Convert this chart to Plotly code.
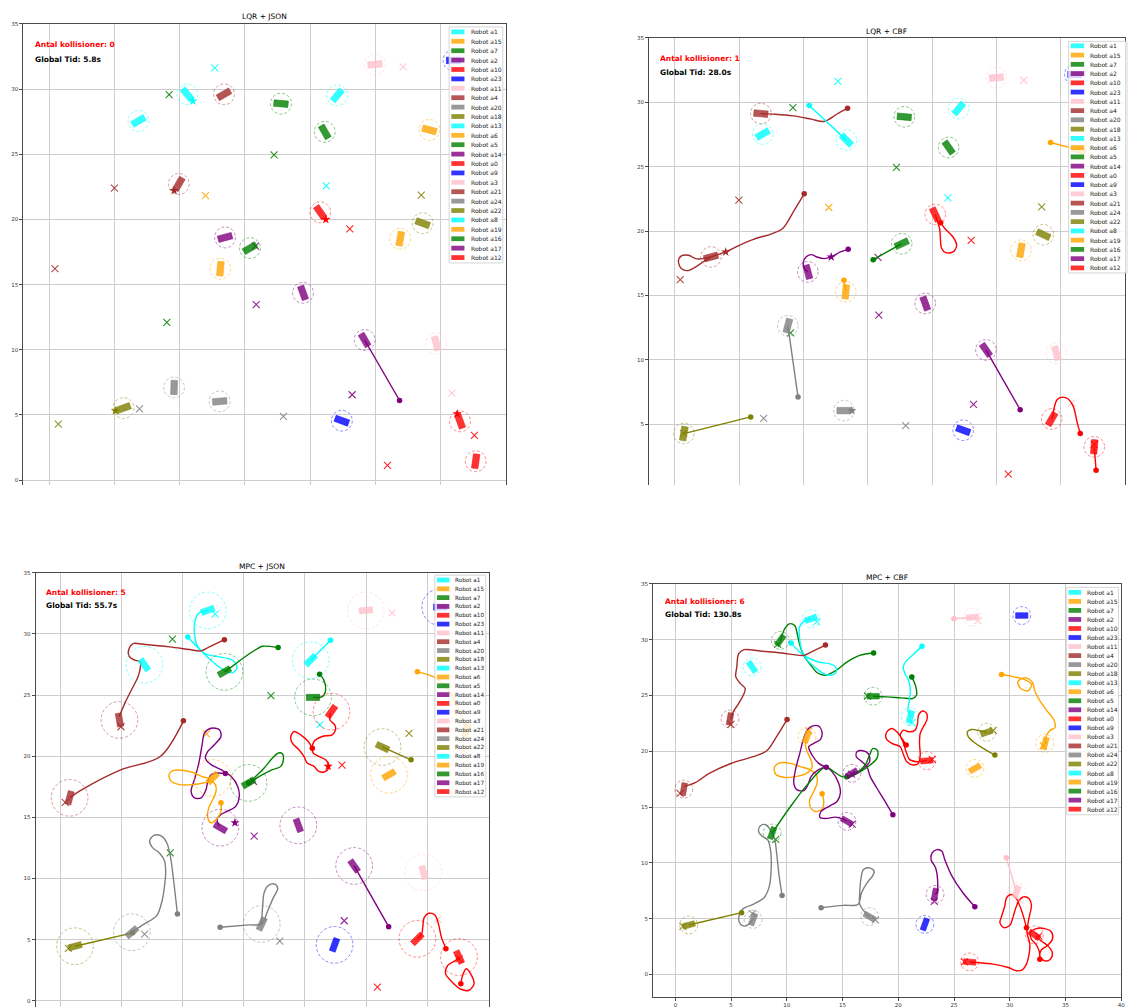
import math
import plotly.graph_objects as go

W, H = 1129, 1008

NAMES = ["a1", "a15", "a7", "a2", "a10", "a23", "a11", "a4", "a20", "a18",
         "a13", "a6", "a5", "a14", "a0", "a9", "a3", "a21", "a24", "a22",
         "a8", "a19", "a16", "a17", "a12"]
PALETTE = ["cyan", "orange", "green", "purple", "red", "blue", "pink", "brown", "gray", "olive"]
RGB = {"cyan": (0, 255, 255), "orange": (255, 165, 0), "green": (0, 128, 0),
       "purple": (128, 0, 128), "red": (255, 0, 0), "blue": (0, 0, 255),
       "pink": (255, 192, 203), "brown": (165, 42, 42), "gray": (128, 128, 128),
       "olive": (128, 128, 0)}

TITLES = ["LQR + JSON", "LQR + CBF", "MPC + JSON", "MPC + CBF"]
COLLISIONS = [0, 1, 5, 6]
TIMES = ["5.8s", "28.0s", "55.7s", "130.8s"]
Y_TICKS = [0, 5, 10, 15, 20, 25, 30, 35]
X_TICKS = [0, 5, 10, 15, 20, 25, 30, 35, 40]

# goal positions, legend order (None = hidden)
GOAL_X = [None, 33.0, 9.18, 15.86, 23.04, None, 27.13, 4.98, 6.91, 0.68,
          12.68, None, 17.23, 15.8, 25.93, None, 30.87, 0.42, 17.95, 28.52,
          21.23, 11.97, 9.0, 23.22, 32.6]
GOAL_Y = [None, 20.5, 29.58, 13.47, 19.28, None, 31.71, 22.41, 5.46, 4.3,
          31.62, None, 24.95, 17.95, 1.13, None, 6.67, 16.23, 4.89, 21.87,
          22.58, 21.83, 12.1, 6.55, 3.44]

# robot poses per panel (legend order)
P1_X = [6.83, 29.15, 17.76, 13.47, 20.77, 31.0, 24.97, 13.39, 9.56, 5.68,
        10.57, 26.91, 21.12, 19.45, 31.5, 22.43, 29.67, 9.92, 13.06, 28.63,
        22.08, 13.11, 15.38, 24.18, 32.7]
P1_Y = [27.56, 26.87, 28.88, 18.62, 20.55, 32.2, 31.89, 29.6, 7.11, 5.53,
        29.6, 18.52, 26.72, 14.37, 4.51, 4.56, 10.49, 22.72, 6.04, 19.71,
        29.52, 16.22, 17.8, 10.75, 1.45]
P1_A = [30, -15, -5, 15, -55, 0, 5, 30, 88, 20,
        -50, 80, -60, -70, -70, -20, -75, 60, 5, -20,
        50, 85, 30, -60, 82]

P2_X = [6.83, 31.4, 17.84, 10.34, 20.25, 31.1, 25.0, 6.69, 8.79, 0.7,
        13.34, 26.91, 21.29, 19.47, 29.3, 22.42, 29.66, 2.81, 13.15, 28.65,
        22.08, 13.29, 17.64, 24.19, 32.61]
P2_Y = [27.53, 26.3, 28.87, 16.83, 21.29, 32.16, 31.91, 29.12, 12.65, 4.28,
        27.06, 18.51, 26.49, 14.38, 5.41, 4.54, 10.52, 17.99, 6.06, 19.72,
        29.51, 15.28, 19.02, 10.77, 3.25]
P2_A = [30, -15, -5, -75, -65, 0, 5, -5, 75, 80,
        -45, 80, -55, -70, 60, -20, -75, 15, 0, -25,
        50, 85, 25, -55, 85]

P3_X = [6.89, 33.2, 13.43, 13.1, 22.18, 31.07, 24.99, 4.85, 5.87, 1.22,
        12.07, 26.88, 20.67, 19.47, 29.2, 22.43, 29.7, 0.78, 16.48, 26.35,
        20.48, 12.48, 15.4, 24.03, 32.6]
P3_Y = [27.48, 22.1, 26.9, 14.16, 23.65, 32.19, 31.92, 22.97, 5.61, 4.47,
        31.92, 18.49, 24.81, 14.35, 5.07, 4.58, 10.49, 16.6, 6.29, 20.75,
        27.85, 18.22, 17.82, 11.03, 3.58]
P3_A = [-55, 75, 30, -30, 55, 0, 5, -80, 40, 15,
        20, 30, 0, -70, 45, 70, -75, 75, 65, -25,
        45, 45, 30, -55, -65]

P4_X = [6.88, 33.15, 9.41, 15.39, 22.55, 31.07, 26.66, 4.9, 6.97, 1.2,
        12.16, 26.87, 17.74, 15.84, 26.4, 22.38, 30.6, 0.75, 17.42, 27.92,
        21.08, 11.8, 8.68, 23.29, 32.2]
P4_Y = [27.56, 20.71, 29.94, 13.72, 19.16, 32.17, 32.02, 22.9, 4.94, 4.43,
        31.88, 18.47, 24.94, 18.03, 1.12, 4.49, 7.4, 16.61, 5.18, 21.7,
        23.1, 21.3, 12.67, 7.17, 3.55]
P4_A = [-55, 75, 55, -30, 5, 0, 5, 80, 70, 15,
        20, 30, 0, 30, -5, 70, 70, 80, -30, 20,
        75, 70, 70, 80, -35]

# trajectories (first point = start)
P1_PATHS = {
    "a17": ([26.86, 24.18], [6.11, 10.75]),
}

P2_PATHS = {
    "a4": ([13.43, 12.58, 11.6, 10.62, 9.21, 7.81, 6.69],
           [29.54, 29.07, 28.51, 28.69, 28.94, 29.07, 29.12]),
    "a13": ([10.45, 13.34], [29.74, 27.06]),
    "a15": ([29.21, 31.4], [26.88, 26.3]),
    "a21": ([10.06, 9.35, 8.37, 7.53, 6.12, 4.72, 3.96, 3.03, 2.19, 1.63, 1.07, 0.51, 0.28, 0.51, 1.01, 1.63, 2.19, 2.75],
            [22.89, 21.73, 20.18, 19.79, 19.36, 18.76, 18.38, 18.07, 17.86, 17.86, 18.12, 18.07, 17.65, 17.09, 16.93, 17.22, 17.6, 17.91]),
    "a2": ([13.48, 12.87, 12.16, 11.6, 11.04, 10.62, 10.2, 10.0, 10.06, 10.34],
           [18.58, 18.38, 17.99, 17.86, 17.99, 18.17, 17.99, 17.6, 17.09, 16.83]),
    "a19": ([13.15, 13.29], [16.19, 15.28]),
    "a16": ([15.42, 17.64], [17.78, 19.02]),
    "a10": ([20.67, 21.01, 21.63, 21.91, 21.63, 21.07, 20.73, 20.65, 20.59, 20.39, 20.25],
            [20.64, 20.18, 19.54, 18.89, 18.38, 18.32, 18.69, 19.41, 20.18, 20.82, 21.29]),
    "a20": ([9.58, 8.79], [7.11, 12.65]),
    "a18": ([5.9, 0.7], [5.57, 4.28]),
    "a17": ([26.85, 24.19], [6.13, 10.77]),
    "a0": ([31.52, 31.26, 30.98, 30.56, 30.14, 29.72, 29.49, 29.38, 29.3],
           [4.28, 5.23, 6.39, 6.98, 7.11, 6.91, 6.26, 5.62, 5.41]),
    "a12": ([32.75, 32.61], [1.44, 3.25]),
}

P3_PATHS = {
    "a13": ([10.44, 11.53, 12.48, 13.29, 14.10, 14.46, 14.10, 13.02, 11.93, 11.26, 10.98, 11.07, 11.34, 12.07],
            [29.75, 28.61, 27.72, 27.09, 26.82, 27.25, 27.85, 28.12, 28.34, 28.94, 30.02, 31.24, 31.70, 31.92]),
    "a4": ([13.43, 12.20, 11.53, 10.58, 8.95, 6.78, 5.97, 5.64, 5.64, 6.10, 6.56, 6.56, 6.37, 5.83, 5.29, 4.83],
           [29.53, 28.94, 28.61, 28.72, 28.94, 29.15, 29.21, 28.80, 28.18, 27.85, 27.71, 27.25, 26.49, 25.41, 24.32, 23.24]),
    "a7": ([17.82, 16.54, 16.14, 14.92, 14.1, 13.43], [28.88, 28.99, 28.8, 27.99, 27.36, 26.9]),
    "a8": ([22.10, 20.48], [29.48, 27.85]),
    "a5": ([21.21, 21.56, 21.7, 21.43, 20.67], [26.71, 26.22, 25.41, 24.87, 24.81]),
    "a10": ([20.61, 20.28, 19.66, 19.12, 18.85, 18.98, 19.52, 19.93, 20.2, 20.75, 21.15, 21.7, 21.97, 21.7, 21.15, 20.69, 20.61, 20.75, 21.42, 22.24, 22.51, 22.45, 22.05, 22.1],
            [20.66, 21.2, 21.75, 22.02, 21.61, 21.07, 20.53, 19.98, 19.44, 19.17, 18.76, 18.76, 19.17, 19.71, 19.98, 20.26, 20.66, 21.2, 21.61, 21.75, 22.15, 22.56, 22.97, 23.51]),
    "a21": ([10.08, 8.19, 5.0, 1.8, 0.78], [22.89, 19.98, 18.9, 17.27, 16.6]),
    "a22": ([28.68, 26.35], [19.71, 20.75]),
    "a15": ([29.2, 30.5, 31.6, 32.5, 33.2], [26.9, 26.5, 25.6, 24.0, 22.1]),
    "a2": ([13.51, 12.88, 12.34, 12.07, 11.93, 11.53, 10.98, 10.71, 10.98, 11.34, 11.61, 11.8, 12.34, 13.02, 13.15, 12.61, 12.07, 11.88, 12.34, 13.15, 13.97, 14.51, 14.65, 14.37, 13.7, 13.15, 12.83, 13.02],
           [18.58, 18.63, 18.49, 17.95, 17.27, 16.6, 16.6, 17.14, 18.09, 19.44, 20.94, 21.89, 22.29, 22.16, 21.61, 20.94, 20.39, 19.85, 19.31, 18.9, 18.36, 17.55, 16.73, 15.92, 15.51, 15.24, 14.83, 14.29]),
    "a19": ([13.15, 13.15, 12.88, 12.34, 12.07, 12.15, 12.48, 12.75, 12.69, 12.34, 11.8, 10.85, 9.76, 9.08, 8.9, 9.22, 10.03, 10.98, 11.66, 12.48],
            [16.19, 15.51, 14.97, 14.56, 14.97, 15.78, 16.46, 17.14, 17.68, 17.95, 17.82, 17.68, 17.68, 17.95, 18.49, 18.82, 18.85, 18.63, 18.31, 18.22]),
    "a16": ([15.4, 16.0, 16.68, 17.36, 17.85, 18.17, 18.25, 18.04, 17.36, 16.54, 15.87, 15.46],
            [17.82, 18.36, 19.04, 19.85, 20.26, 20.2, 19.72, 19.17, 18.9, 18.49, 18.09, 17.82]),
    "a20": ([9.59, 9.3, 9.01, 8.72, 8.25, 7.67, 7.32, 7.56, 8.14, 8.54, 8.63, 8.54, 8.34, 7.9, 6.9, 5.93],
            [7.1, 9.68, 11.85, 12.93, 13.48, 13.53, 13.07, 12.53, 12.07, 11.44, 10.49, 9.41, 8.19, 6.97, 6.29, 5.67]),
    "a18": ([5.93, 1.22], [5.56, 4.47]),
    "a24": ([13.08, 15.46, 16.48, 16.97, 17.44, 17.79, 17.55, 17.06, 16.68, 16.56, 16.48, 16.42],
            [6.02, 6.21, 6.29, 7.37, 8.46, 9.19, 9.54, 9.46, 8.86, 7.78, 6.69, 6.15]),
    "a17": ([26.85, 24.03], [6.07, 11.03]),
    "a0": ([31.53, 31.16, 30.92, 30.63, 30.14, 29.76, 29.64, 29.55, 29.2],
           [4.26, 5.21, 6.29, 7.02, 7.16, 6.83, 6.02, 5.48, 5.07]),
    "a12": ([32.75, 32.9, 33.19, 33.62, 33.83, 33.42, 32.75, 32.03, 31.5, 31.68, 32.32, 32.6],
            [1.41, 2.09, 2.63, 2.09, 1.41, 0.87, 0.95, 1.55, 2.22, 2.9, 3.31, 3.58]),
}

P4_PATHS = {
    "a7": ([17.78, 16.54, 15.41, 14.43, 13.46, 12.75, 12.16, 11.51, 11.13, 10.93, 10.7, 10.22, 9.8, 9.57, 9.41],
           [28.81, 28.6, 28.01, 27.26, 26.82, 27.02, 27.71, 28.6, 29.64, 30.54, 31.28, 31.43, 30.98, 30.39, 29.94]),
    "a13": ([10.38, 11.51, 12.81, 13.79, 14.37, 14.43, 13.95, 13.3, 12.49, 11.84, 11.35, 11.13, 11.13, 11.51, 12.16],
            [29.7, 28.6, 28.01, 27.86, 27.56, 27.11, 26.82, 26.96, 27.56, 28.15, 29.05, 30.24, 31.13, 31.64, 31.88]),
    "a4": ([13.46, 12.16, 11.51, 9.57, 7.62, 6.16, 5.68, 5.51, 5.42, 5.84, 6.26, 6.16, 5.68, 5.19, 4.96],
           [29.52, 28.9, 28.6, 28.81, 28.99, 29.11, 28.75, 27.56, 26.67, 26.07, 25.63, 25.18, 24.29, 23.54, 22.86]),
    "a21": ([10.02, 9.08, 8.17, 6.97, 5.03, 3.08, 1.78, 0.81],
            [22.86, 21.31, 20.03, 19.52, 18.93, 18.04, 17.2, 16.85]),
    "a5": ([21.21, 21.57, 21.63, 21.25, 20.27, 18.98, 17.74],
           [26.67, 25.77, 25.03, 24.73, 24.79, 24.88, 24.94]),
    "a8": ([22.12, 21.41, 20.76, 20.43, 20.6, 20.92, 21.08, 20.99, 20.86, 21.08],
           [29.43, 28.75, 28.15, 27.56, 26.96, 26.37, 25.48, 24.58, 23.69, 23.1]),
    "a10": ([20.7, 20.32, 19.87, 19.42, 18.97, 18.91, 19.42, 20.17, 20.47, 20.76, 21.36, 21.81, 21.96, 21.9, 21.96, 22.25, 22.55, 22.55, 22.19, 21.81, 21.72, 21.51, 20.91, 20.47, 20.17, 20.41, 20.7, 21.0, 21.66, 22.55],
            [20.56, 21.15, 21.75, 22.05, 21.75, 21.15, 20.71, 20.41, 19.67, 19.07, 18.77, 18.92, 19.67, 20.71, 21.6, 22.2, 22.79, 23.38, 23.62, 23.24, 22.49, 21.9, 21.75, 21.9, 21.45, 20.86, 19.96, 19.28, 19.07, 19.16]),
    "a22": ([28.66, 27.62, 26.73, 26.28, 26.19, 26.58, 27.32, 27.92],
            [19.67, 20.26, 20.86, 21.3, 21.75, 21.96, 21.84, 21.7]),
    "a15": ([29.26, 30.39, 31.46, 31.95, 31.63, 30.98, 30.72, 31.3, 32.01, 32.27, 32.76, 33.41, 33.96, 34.06, 33.57, 33.25, 33.15],
            [26.88, 26.67, 26.37, 26.01, 25.42, 25.63, 26.22, 26.61, 26.22, 25.33, 24.43, 23.54, 22.8, 22.14, 21.85, 21.31, 20.71]),
    "a11": ([24.98, 26.66], [31.88, 32.02]),
    "a19": ([13.16, 13.31, 13.16, 12.56, 12.11, 12.05, 12.41, 12.71, 12.65, 12.11, 11.22, 10.32, 9.43, 8.89, 8.98, 9.73, 10.77, 11.67, 12.26, 12.11, 11.76, 11.67, 11.82],
            [16.19, 15.5, 14.82, 14.61, 14.99, 15.65, 16.39, 17.14, 17.88, 18.33, 18.63, 18.92, 18.98, 18.57, 17.97, 17.67, 17.73, 17.97, 18.57, 19.37, 20.11, 20.71, 21.3]),
    "a2": ([13.54, 12.86, 12.26, 11.96, 12.41, 13.01, 13.16, 12.86, 12.26, 11.82, 11.46, 11.16, 10.77, 10.62, 10.92, 11.52, 11.88, 12.17, 12.71, 13.54, 14.05, 14.65, 14.8, 14.5, 13.75, 13.07, 12.95, 13.46, 14.35, 15.03, 15.39],
           [18.57, 18.92, 19.67, 20.41, 20.71, 21.07, 21.66, 22.26, 22.26, 21.9, 21.01, 19.82, 18.33, 17.14, 16.54, 16.48, 16.99, 17.73, 18.27, 18.57, 18.18, 17.14, 16.25, 15.5, 15.05, 14.61, 14.1, 13.98, 14.1, 13.92, 13.72]),
    "a14": ([19.51, 18.82, 18.08, 17.48, 17.18, 16.74, 16.23, 16.29, 16.82, 17.33, 17.42, 16.88, 16.29, 15.84],
            [14.31, 15.5, 16.69, 17.73, 18.63, 19.07, 19.52, 19.97, 20.05, 19.76, 19.07, 18.48, 18.12, 18.03]),
    "a16": ([15.39, 16.29, 17.03, 17.42, 17.72, 18.14, 18.08, 17.48, 16.59, 15.84, 14.95, 14.35, 13.46, 11.82, 10.33, 8.68],
            [17.73, 18.09, 18.78, 19.67, 20.26, 20.05, 19.37, 18.78, 18.18, 17.79, 17.73, 18.09, 18.57, 16.99, 15.05, 12.67]),
    "a20": ([9.57, 9.31, 9.08, 8.92, 8.6, 8.11, 7.62, 7.46, 7.78, 8.27, 8.53, 8.6, 8.43, 7.95, 6.97, 6.0, 5.68, 5.84, 6.33, 6.97],
            [7.08, 8.81, 10.89, 12.08, 12.83, 13.42, 13.33, 12.83, 12.38, 12.08, 11.19, 9.7, 7.92, 6.88, 6.28, 5.83, 5.09, 4.49, 4.35, 4.94]),
    "a18": ([5.94, 1.2], [5.54, 4.43]),
    "a24": ([13.07, 15.08, 16.38, 16.7, 17.19, 17.68, 17.84, 17.42, 16.87, 16.64, 16.54, 16.54, 17.03, 17.42],
            [5.98, 6.19, 6.28, 7.32, 8.21, 8.81, 9.26, 9.55, 9.4, 8.51, 7.32, 6.28, 5.54, 5.18]),
    "a17": ([26.86, 25.79, 24.81, 24.16, 23.91, 23.45, 23.03, 22.93, 23.35, 23.52, 23.45, 23.29],
            [6.07, 7.32, 8.81, 10.3, 11.04, 11.19, 10.89, 10.3, 9.55, 8.51, 7.32, 7.17]),
    "a3": ([29.68, 30.6], [10.45, 7.4]),
    "a0": ([31.49, 31.25, 30.96, 30.6, 30.15, 29.7, 29.55, 29.29, 29.11, 29.46, 30.0, 30.3, 30.54, 30.84, 31.28, 31.73, 31.94, 31.79, 31.64, 31.55, 31.79, 31.73, 31.49, 31.13, 30.6, 29.85, 28.51, 27.02, 26.4],
           [4.19, 5.09, 5.98, 6.78, 7.17, 6.87, 6.13, 5.3, 4.64, 4.19, 4.4, 5.18, 5.98, 6.66, 6.96, 6.78, 6.19, 5.39, 4.64, 3.75, 2.71, 1.81, 0.92, 0.41, 0.33, 0.62, 0.92, 1.07, 1.12]),
    "a12": ([32.69, 32.63, 32.33, 31.94, 31.85, 32.39, 33.13, 33.73, 33.82, 33.34, 32.83, 32.69, 33.13, 33.64, 33.82, 33.43, 32.83, 32.33],
            [1.37, 2.11, 2.71, 3.15, 3.75, 4.11, 4.11, 3.81, 3.15, 2.56, 2.2, 1.61, 1.22, 1.37, 1.9, 2.56, 3.0, 3.45]),
}

# lookahead star markers per panel
P1_STARS = {"a13": (11.0, 29.09), "a21": (9.56, 22.21), "a10": (21.2, 20.0), "a18": (5.05, 5.32), "a0": (31.28, 5.09)}
P2_STARS = {"a21": (3.96, 18.38), "a2": (12.16, 17.99), "a24": (13.76, 6.06)}
P3_STARS = {"a2": (14.29, 14.56), "a10": (21.91, 19.17)}
P4_STARS = {}

POSES = [(P1_X, P1_Y, P1_A), (P2_X, P2_Y, P2_A), (P3_X, P3_Y, P3_A), (P4_X, P4_Y, P4_A)]
PATHS = [P1_PATHS, P2_PATHS, P3_PATHS, P4_PATHS]
STARS = [P1_STARS, P2_STARS, P3_STARS, P4_STARS]

# ---------------- layout geometry (pixels) ----------------
PANELS = [
    dict(xpx=(23.5, 508.0), ypx=(21.0, 484.0), xr=(-2, 35.04), yr=(-0.38, 35), full=False,
         title=(265.7, 14.0), txt=(33.0, 42.0, 56.7), radius=0.8,
         leg=dict(box=(450.7, 504.6, 24.0, 261.0), row0=29.0, step=9.44, patch=(452.9, 466.1), text=470.2, fs=6)),
    dict(xpx=(651.4, 1129.0), ypx=(35.0, 484.0), xr=(-2, 35.0), yr=(0.28, 35), full=False,
         title=(889.5, 28.7), txt=(660.5, 56.0, 70.0), radius=0.8,
         leg=dict(box=(1072.3, 1131.0, 38.5, 271.0), row0=43.0, step=9.29, patch=(1074.5, 1088.0), text=1091.8, fs=6)),
    dict(xpx=(35.7, 491.1), ypx=(572.0, 1008.0), xr=(-2, 35.08), yr=(-0.5, 35), full=False,
         title=(263.4, 565.7), txt=(43.9, 591.7, 605.3), radius=1.5,
         leg=dict(box=(436.4, 487.5, 574.5, 797.0), row0=579.3, step=8.85, patch=(438.6, 451.0), text=454.9, fs=5.7)),
    dict(xpx=(655.4, 1125.3), ypx=(583.3, 997.7), xr=(-2, 40), yr=(-2, 35), full=True,
         title=(890.3, 576.7), txt=(664.9, 601.3, 614.0), radius=0.8,
         leg=dict(box=(1070.5, 1122.4, 586.7, 815.0), row0=591.7, step=9.07, patch=(1072.3, 1085.0), text=1088.9, fs=6)),
]

FONT = "DejaVu Sans"
GRID = "#cdcdcd"
SPINE = "#4a4a4a"
ROBOT_L, ROBOT_W = 1.1, 0.5


def rgba(name, a):
    r, g, b = RGB[name]
    return f"rgba({r},{g},{b},{a})"


def color_of(i):
    return PALETTE[i % len(PALETTE)]


def px(xp):
    return xp / W


def py(yp):
    return 1 - yp / H


fig = go.Figure()
shapes = []
annotations = []

for p, P in enumerate(PANELS):
    sfx = "" if p == 0 else str(p + 1)
    xa, ya = "x" + sfx, "y" + sfx
    xs_, ys_, angs = POSES[p]

    # goals
    gx, gy, gc = [], [], []
    for i in range(len(NAMES)):
        if GOAL_X[i] is not None:
            gx.append(GOAL_X[i]); gy.append(GOAL_Y[i]); gc.append(rgba(color_of(i), 0.85))
    fig.add_trace(go.Scatter(x=gx, y=gy, mode="markers", xaxis=xa, yaxis=ya,
                             marker=dict(symbol="x-thin", size=7, color=gc,
                                         line=dict(width=1.1, color=gc)),
                             showlegend=False, hoverinfo="skip"))

    # trajectories
    dx, dy, dc = [], [], []
    for name, (tx, ty) in PATHS[p].items():
        i = NAMES.index(name)
        c = color_of(i)
        shape = "spline" if len(tx) > 3 else "linear"
        fig.add_trace(go.Scatter(x=tx, y=ty, mode="lines", xaxis=xa, yaxis=ya,
                                 line=dict(color=rgba(c, 1.0), width=1.4, shape=shape, smoothing=0.9),
                                 showlegend=False, hoverinfo="skip"))
        dx.append(tx[0]); dy.append(ty[0]); dc.append(rgba(c, 1.0))
    if dx:
        fig.add_trace(go.Scatter(x=dx, y=dy, mode="markers", xaxis=xa, yaxis=ya,
                                 marker=dict(symbol="circle", size=5.5, color=dc),
                                 showlegend=False, hoverinfo="skip"))

    # robots
    r = P["radius"]
    for i, name in enumerate(NAMES):
        c = color_of(i)
        cx, cy, a = xs_[i], ys_[i], math.radians(angs[i])
        ca, sa = math.cos(a), math.sin(a)
        rx, ry = [], []
        for u, v in [(-1, -1), (1, -1), (1, 1), (-1, 1), (-1, -1)]:
            uu, vv = u * ROBOT_L / 2, v * ROBOT_W / 2
            rx.append(cx + uu * ca - vv * sa)
            ry.append(cy + uu * sa + vv * ca)
        fig.add_trace(go.Scatter(x=rx, y=ry, mode="lines", fill="toself", xaxis=xa, yaxis=ya,
                                 fillcolor=rgba(c, 0.8), line=dict(width=0.6, color=rgba(c, 0.85)),
                                 showlegend=False, hoverinfo="skip"))
        shapes.append(dict(type="circle", xref=xa, yref=ya, x0=cx - r, x1=cx + r, y0=cy - r, y1=cy + r,
                           line=dict(color=rgba(c, 0.45), width=1, dash="3px,2px"), layer="above"))

    # stars
    if STARS[p]:
        sx, sy, sc = [], [], []
        for name, (a_, b_) in STARS[p].items():
            i = NAMES.index(name)
            sx.append(a_); sy.append(b_); sc.append(rgba(color_of(i), 1.0))
        fig.add_trace(go.Scatter(x=sx, y=sy, mode="markers", xaxis=xa, yaxis=ya,
                                 marker=dict(symbol="star", size=7, color=sc),
                                 showlegend=False, hoverinfo="skip"))

    # axes
    xd = [max(0, px(P["xpx"][0])), min(1, px(P["xpx"][1]))]
    yd = [max(0, py(P["ypx"][1])), min(1, py(P["ypx"][0]))]
    xcfg = dict(domain=xd, range=list(P["xr"]), anchor=ya, showgrid=True, gridcolor=GRID, gridwidth=1.2,
                tickvals=X_TICKS, zeroline=False, linecolor=SPINE, linewidth=1,
                tickfont=dict(size=5.5, color="#333", family=FONT))
    if P["full"]:
        xcfg.update(showline=True, mirror=True, ticks="outside", ticklen=3, tickcolor=SPINE,
                    showticklabels=True)
    else:
        xcfg.update(showline=True, mirror=False, side="top", ticks="", showticklabels=False)
    ycfg = dict(domain=yd, range=list(P["yr"]), anchor=xa, showgrid=True, gridcolor=GRID, gridwidth=1.2,
                tickvals=Y_TICKS, zeroline=False, showline=True, mirror=True, linecolor=SPINE, linewidth=1,
                ticks="outside", ticklen=3, tickcolor=SPINE,
                tickfont=dict(size=5.5, color="#333", family=FONT))
    fig.update_layout({"xaxis" + sfx: xcfg, "yaxis" + sfx: ycfg})

    # title and info texts
    annotations.append(dict(x=px(P["title"][0]), y=py(P["title"][1]), xref="paper", yref="paper",
                            text=TITLES[p], showarrow=False, xanchor="center", yanchor="middle",
                            font=dict(size=7.5, color="black", family=FONT)))
    tx0, ty1, ty2 = P["txt"]
    annotations.append(dict(x=px(tx0), y=py(ty1), xref="paper", yref="paper",
                            text=f"<b>Antal kollisioner: {COLLISIONS[p]}</b>", showarrow=False,
                            xanchor="left", yanchor="middle", font=dict(size=7.5, color="red", family=FONT)))
    annotations.append(dict(x=px(tx0), y=py(ty2), xref="paper", yref="paper",
                            text=f"<b>Global Tid: {TIMES[p]}</b>", showarrow=False,
                            xanchor="left", yanchor="middle", font=dict(size=7.5, color="black", family=FONT)))

    # legend (drawn manually to reach matplotlib's compact spacing)
    L = P["leg"]
    bx0, bx1, by0, by1 = L["box"]
    shapes.append(dict(type="rect", xref="paper", yref="paper", x0=px(bx0), x1=px(bx1), y0=py(by1), y1=py(by0),
                       fillcolor="rgba(255,255,255,0.8)", line=dict(color="#cccccc", width=0.8), layer="above"))
    for i, name in enumerate(NAMES):
        yc = L["row0"] + i * L["step"]
        c = color_of(i)
        shapes.append(dict(type="rect", xref="paper", yref="paper", x0=px(L["patch"][0]), x1=px(L["patch"][1]),
                           y0=py(yc + 2.4), y1=py(yc - 2.4), fillcolor=rgba(c, 0.8),
                           line=dict(width=0), layer="above"))
        annotations.append(dict(x=px(L["text"]), y=py(yc), xref="paper", yref="paper",
                                text=f"Robot {name}", showarrow=False, xanchor="left", yanchor="middle",
                                font=dict(size=L["fs"], color="#222", family=FONT)))

fig.update_layout(width=W, height=H, autosize=False, margin=dict(l=0, r=0, t=0, b=0, pad=0),
                  paper_bgcolor="white", plot_bgcolor="white", showlegend=False,
                  shapes=shapes, annotations=annotations, font=dict(family=FONT))

fig.write_html("out.html", config={"displayModeBar": False},
               post_script="document.body.style.margin='0';document.body.style.padding='0';"
                           "document.body.style.overflow='hidden';"
                           "document.documentElement.style.overflow='hidden';")
